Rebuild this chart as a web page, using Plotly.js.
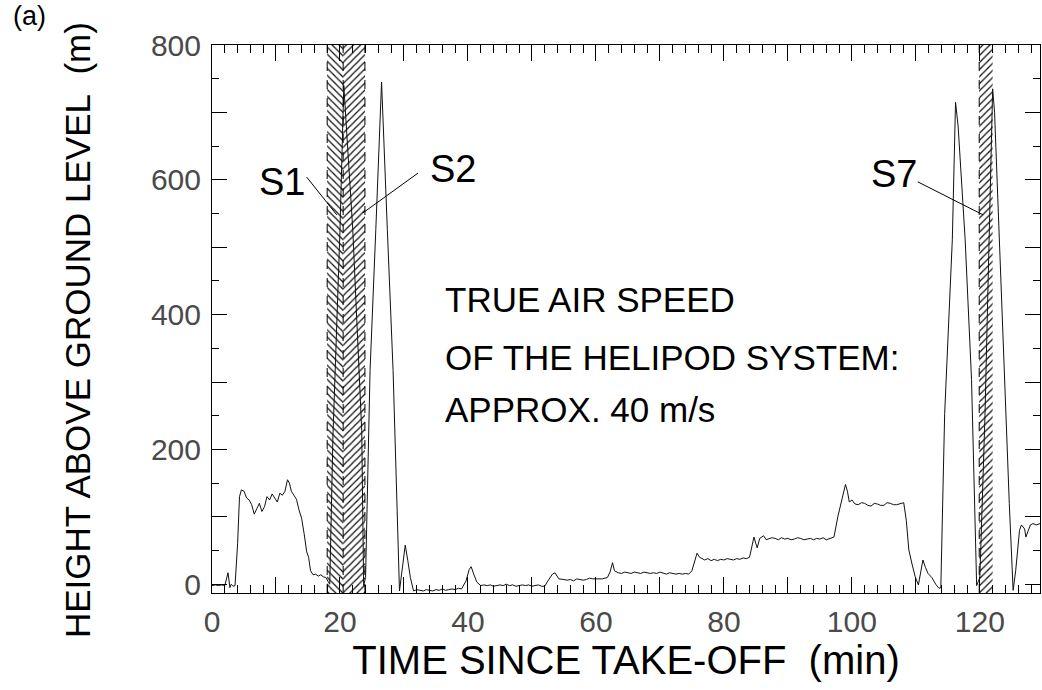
<!DOCTYPE html>
<html>
<head>
<meta charset="utf-8">
<script src="https://cdn.plot.ly/plotly-3.0.1.min.js"></script>
<style>
  html, body { margin: 0; padding: 0; background: #fff; }
  #chart { width: 1042px; height: 690px; }
</style>
</head>
<body>
<div id="chart"></div>
<script>
// ---- data ----
const timeMin = [
  0,0.5,1,1.5,2,2.5,2.8,3.0,3.3,3.6,
  4.0,4.3,4.6,5.0,5.4,5.8,6.2,6.6,7.0,7.4,
  7.8,8.2,8.6,9.0,9.4,9.8,10.2,10.6,11.0,11.4,
  11.8,12.1,12.4,12.8,13.2,13.6,14.0,14.4,14.8,15.1,
  15.4,15.8,16.2,16.6,17.0,17.4,17.8,18.2,18.4,18.9,
  20.0,20.6,22.0,23.4,23.7,24.0,24.7,25.6,26.5,27.4,
  28.3,29.3,29.7,30.2,30.6,31.0,31.5,32,32.5,33,
  33.5,34,34.5,35,35.5,36,36.5,37,37.5,38,
  38.5,39,39.7,40.2,40.5,40.9,41.4,42,42.5,43,
  43.5,44,44.5,45,45.5,46,46.5,47,47.5,48,
  48.5,49,49.5,50,50.5,51,51.5,52,52.5,53.2,
  53.6,54.2,55,55.5,56,56.5,57,57.5,58,58.5,
  59,59.5,60,60.5,61,61.8,62.2,62.6,62.9,63.5,
  64,64.5,65,65.5,66,66.5,67,67.5,68,68.5,
  69,69.5,70,70.5,71,71.5,72,72.5,73,73.5,
  74,74.5,75.0,75.5,75.8,76.2,77,77.5,78,78.5,
  79,79.5,80,80.5,81,81.5,82,82.5,83,83.5,
  84,84.4,84.7,85.0,85.2,85.6,86.2,86.6,87,87.5,
  88,88.5,89,89.5,90,90.5,91,91.5,92,92.5,
  93,93.5,94,94.5,95,95.5,96,96.5,97.2,97.8,
  98.5,99.0,99.3,99.6,100,100.5,101,101.5,102,102.5,
  103,103.5,104,104.5,105,105.5,106,106.5,107,107.5,
  108.1,108.5,108.9,109.4,109.9,110.4,110.8,111.1,111.5,111.9,
  112.5,113.1,113.6,113.9,114.5,115.7,116.2,116.6,117.7,118.7,
  119.5,120.0,120.8,121.5,122.0,122.3,123.0,123.9,124.6,125.2,
  125.6,126.2,126.5,127.0,127.2,127.5,127.9,128.3,128.8,129.4
];
const heightM = [
  -2,-1,-2,-1,-2,17,-5,0,-3,-2,
  60,130,140,138,128,125,118,104,112,120,
  108,115,130,125,134,128,122,135,132,138,
  155,150,138,132,126,110,98,75,48,40,
  20,14,15,12,14,11,10,3,0,220,
  525,740,526,228,-2,10,317,526,745,526,
  317,-10,20,58,35,10,-10,-8,-9,-10,
  -8,-9,-10,-8,-9,-7,-9,-8,-7,-8,
  -6,-7,5,22,26,15,3,-2,-1,-2,
  -1,-3,-2,-1,-2,0,-2,-1,-3,-2,
  -1,-2,-1,-3,-2,-1,-3,-3,5,15,
  17,8,7,6,7,5,8,7,6,7,
  9,8,8,9,8,10,18,32,20,17,
  16,18,17,16,18,17,16,18,17,16,
  17,16,18,16,15,17,16,15,16,15,
  16,15,20,38,46,40,36,38,35,37,
  35,37,36,38,37,36,38,37,39,38,
  40,55,70,60,54,68,72,66,67,69,
  68,66,69,67,68,66,67,69,68,66,
  67,68,66,68,67,69,66,68,70,100,
  130,148,138,122,125,119,118,121,120,117,
  116,120,119,117,117,121,120,118,118,119,
  121,95,51,30,11,-1,20,36,25,16,
  10,0,-6,-5,253,512,715,680,512,304,
  -2,10,250,550,735,700,520,304,120,-9,
  20,80,88,82,70,78,88,90,88,90
];

// hatched sounding segments (start / end, minutes)
const segStart = [18.0, 20.5, 119.9];
const segEnd   = [20.5, 23.9, 122.0];
const segLabels = ['S1', 'S2', 'S7'];

// axis ticks (major ticks every 10 min / 100 m; labels only where text is given)
const xTickVals = [0,10,20,30,40,50,60,70,80,90,100,110,120];
const xTickText = ['0','','20','','40','','60','','80','','100','','120'];
const yTickVals = [0,100,200,300,400,500,600,700,800];
const yTickText = ['0','','200','','400','','600','','800'];

const xTitle = 'TIME SINCE TAKE-OFF\u00a0\u00a0(min)';
const yTitle = 'HEIGHT ABOVE GROUND LEVEL\u00a0\u00a0(m)';
const infoLines = ['TRUE AIR SPEED', 'OF THE HELIPOD SYSTEM:', 'APPROX. 40 m/s'];

// ---- figure ----
const xRange = [0, 129.4];
const yRange = [-13, 800];

function aliasFrom(vals, texts) {
  const al = {};
  vals.forEach((v, i) => { if (texts[i] !== String(v)) al[String(v)] = texts[i]; });
  return al;
}

const hatchTrace = {
  type: 'bar',
  x: segStart.map((s, i) => (s + segEnd[i]) / 2),
  width: segStart.map((s, i) => segEnd[i] - s),
  base: segStart.map(() => yRange[0]),
  y: segStart.map(() => yRange[1] - yRange[0]),
  marker: {
    color: '#ffffff',
    line: { width: 0 },
    pattern: {
      shape: ['\\', '/', '/'],
      fgcolor: '#111111',
      bgcolor: '#ffffff',
      size: 5,
      solidity: 0.25
    }
  },
  hoverinfo: 'skip'
};

const lineTrace = {
  type: 'scatter',
  mode: 'lines',
  x: timeMin,
  y: heightM,
  line: { color: '#111111', width: 1 },
  hoverinfo: 'skip'
};

const FAM = 'Liberation Sans, Arial, sans-serif';
const tickFont = { family: FAM, size: 30, color: '#4a4a4a' };
const xTitleFont = { family: FAM, size: 40, color: '#000000' };
const yTitleFont = { family: FAM, size: 35, color: '#000000' };
const textFont = { family: FAM, size: 35, color: '#000000' };
const labFont = { family: FAM, size: 38, color: '#000000' };

const shapes = [];
// dashed edges of the hatched segments
[segStart[0], segEnd[0], segEnd[1], segStart[2]].forEach(xv => {
  shapes.push({ type: 'line', xref: 'x', yref: 'paper', x0: xv, x1: xv, y0: 0, y1: 1,
    line: { color: '#000', width: 1, dash: 'dash' }, layer: 'above' });
});
// pointer lines from labels
const pointers = [
  [14.8, 604, 19.5, 548],
  [32.2, 610, 23.6, 551],
  [110.3, 597, 120.5, 548]
];
pointers.forEach(p => {
  shapes.push({ type: 'line', xref: 'x', yref: 'y', x0: p[0], y0: p[1], x1: p[2], y1: p[3],
    line: { color: '#000', width: 1 }, layer: 'above' });
});

const annotations = [];
const labelPos = [[10.9, 597], [37.6, 616], [106.6, 608]];
segLabels.forEach((t, i) => {
  annotations.push({ x: labelPos[i][0], y: labelPos[i][1], xref: 'x', yref: 'y', text: t,
    showarrow: false, font: labFont, xanchor: 'center', yanchor: 'middle' });
});
const infoY = [422, 337, 259];
infoLines.forEach((t, i) => {
  annotations.push({ x: 36.1, y: infoY[i], xref: 'x', yref: 'y', text: t,
    showarrow: false, font: textFont, xanchor: 'left', yanchor: 'middle' });
});
const plotW = 1042 - 212 - 2, plotH = 690 - 45 - 97;
const px2x = p => (p - 212) / plotW;
const py2y = p => (593 - p) / plotH;
annotations.push({ x: px2x(29), y: py2y(16), xref: 'paper', yref: 'paper',
  text: '(a)', showarrow: false, xanchor: 'center', yanchor: 'middle',
  font: { family: FAM, size: 27, color: '#000' } });
// y-axis title (placed as rotated text so it matches the reference position)
annotations.push({ x: px2x(77), y: py2y(330), xref: 'paper', yref: 'paper',
  text: yTitle, textangle: -90, showarrow: false, xanchor: 'center', yanchor: 'middle',
  font: yTitleFont });

const layout = {
  width: 1042,
  height: 690,
  margin: { l: 212, r: 2, t: 45, b: 97 },
  paper_bgcolor: '#ffffff',
  plot_bgcolor: '#ffffff',
  showlegend: false,
  barmode: 'overlay',
  xaxis: {
    range: xRange,
    tickmode: 'linear',
    tick0: xTickVals[0],
    dtick: xTickVals[1] - xTickVals[0],
    labelalias: aliasFrom(xTickVals, xTickText),
    ticks: 'inside',
    ticklen: 16,
    tickwidth: 1,
    tickcolor: '#000',
    minor: { dtick: 2, ticks: 'inside', ticklen: 8, tickwidth: 1, tickcolor: '#000', showgrid: false },
    mirror: 'allticks',
    showline: true,
    linecolor: '#000',
    linewidth: 1,
    showgrid: false,
    zeroline: false,
    tickfont: tickFont,
    ticklabelstandoff: 2,
    title: { text: xTitle, font: xTitleFont, standoff: 4 }
  },
  yaxis: {
    range: yRange,
    tickmode: 'linear',
    tick0: yTickVals[0],
    dtick: yTickVals[1] - yTickVals[0],
    labelalias: aliasFrom(yTickVals, yTickText),
    ticks: 'inside',
    ticklen: 15,
    tickwidth: 1,
    tickcolor: '#000',
    minor: { dtick: 50, ticks: 'inside', ticklen: 7, tickwidth: 1, tickcolor: '#000', showgrid: false },
    mirror: 'allticks',
    showline: true,
    linecolor: '#000',
    linewidth: 1,
    showgrid: false,
    zeroline: false,
    tickfont: tickFont,
    ticklabelstandoff: 4
  },
  shapes: shapes,
  annotations: annotations
};

Plotly.newPlot('chart', [hatchTrace, lineTrace], layout, { staticPlot: true, displayModeBar: false });
</script>
</body>
</html>
